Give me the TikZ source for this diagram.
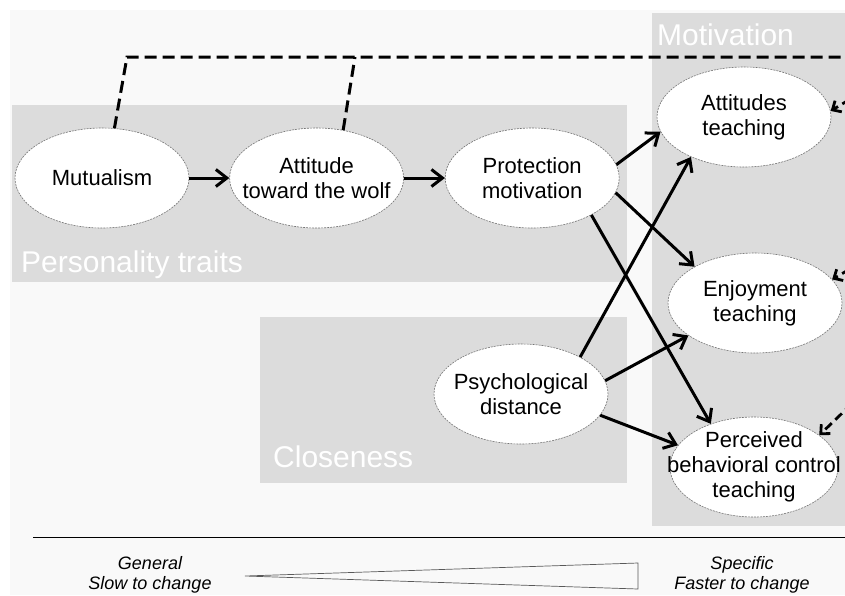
\documentclass[tikz,border=0pt]{standalone}
\usepackage{fontspec}
\setmainfont{Liberation Sans}
\usetikzlibrary{shapes}
\usetikzlibrary{positioning}
\usetikzlibrary{arrows.meta}
\definecolor{panel}{RGB}{220,220,220}
\definecolor{paper}{RGB}{249,249,249}
\tikzstyle{construct} = [ellipse, fill=white, draw=black!55, line width=0.6pt,
dash pattern=on 2pt off 1pt, inner sep=-30pt, minimum width=174pt,
minimum height=100pt, align=center, font=\fontsize{22}{25}\selectfont]
\tikzstyle{domainlabel} = [anchor=base west, inner sep=0pt, text=white,
font=\fontsize{30}{30}\selectfont]
\tikzstyle{link} = [->, line width=3pt]
\tikzstyle{feedback} = [line width=3pt, dash pattern=on 12pt off 6pt]
\tikzstyle{backlink} = [line width=2.8pt, dash pattern=on 9pt off 5pt,
-{Straight Barb[length=7pt,width=13pt]}]
\tikzstyle{endlabel} = [anchor=base, inner sep=0pt, font=\fontsize{18}{21}\selectfont\itshape]
\tikzset{>={Straight Barb[length=11pt,width=17pt]}}

\begin{document}
\begin{tikzpicture}[x=1pt, y=-1pt]
  \useasboundingbox (0,0) rectangle (845,595);
  \fill[paper] (10,10) rectangle (845,595);
  \begin{scope}
  \clip (0,0) rectangle (845,595);

  % panels
  \fill[panel] (12,105) rectangle (627,282);
  \fill[panel] (260,317) rectangle (627,483);
  \fill[panel] (652,13) rectangle (845,526);
  \node[domainlabel] (traits) at (21,272) {Personality traits};
  \node[domainlabel] (close) at (273,467) {Closeness};
  \node[domainlabel] (motiv) at (657,45) {Motivation};

  % constructs
  \node[construct] (mut) at (102,178) {Mutualism};
  \node[construct, right=40pt of mut] (attw) {Attitude\\toward the wolf};
  \node[construct, right=41pt of attw] (prot) {Protection\\motivation};
  \node[construct] (psy) at (521,394) {Psychological\\distance};
  \node[construct] (att) at (744,117) {Attitudes\\teaching};
  \node[construct] (enj) at (755,303) {Enjoyment\\teaching};
  \node[construct, minimum width=168pt] (pbc) at (754,467) {Perceived\\behavioral control\\teaching};

  % feedback loop
  \coordinate (k1) at (127,57);
  \coordinate (k2) at (355,57);
  \coordinate (k3) at (880,57);
  \coordinate (fa) at (862,92);
  \coordinate (fe) at (862,262);
  \coordinate (fp) at (862,394);
  \draw[feedback] (mut.76) -- (k1) -- (k3);
  \draw[feedback] (attw.61) -- (k2);
  \draw[backlink] (fa) -- (att.4);
  \draw[backlink] (fe) -- (enj.17);
  \draw[backlink] (fp) -- (pbc.26);

  % paths
  \draw[link] (mut) -- (attw);
  \draw[link] (attw) -- (prot);
  \draw[link] (prot.9) -- (att.190);
  \draw[link] (prot.-10) -- (enj.149);
  \draw[link] (prot.-32) -- (pbc.135);
  \draw[link] (psy.32) -- (att.-143);
  \draw[link] (psy.9) -- (enj.206);
  \draw[link] (psy.-15) -- (pbc.164);

  % general to specific
  \draw[line width=1pt] (33,537) -- (845,537);
  \draw[black!65, line width=0.7pt] (245,576) -- (638,563) -- (638,589) -- cycle;
  \node[endlabel] (gen) at (150,569) {General};
  \node[endlabel] (slow) at (150,589) {Slow to change};
  \node[endlabel] (spec) at (742,569) {Specific};
  \node[endlabel] (fast) at (742,589) {Faster to change};
  \end{scope}
\end{tikzpicture}
\end{document}
